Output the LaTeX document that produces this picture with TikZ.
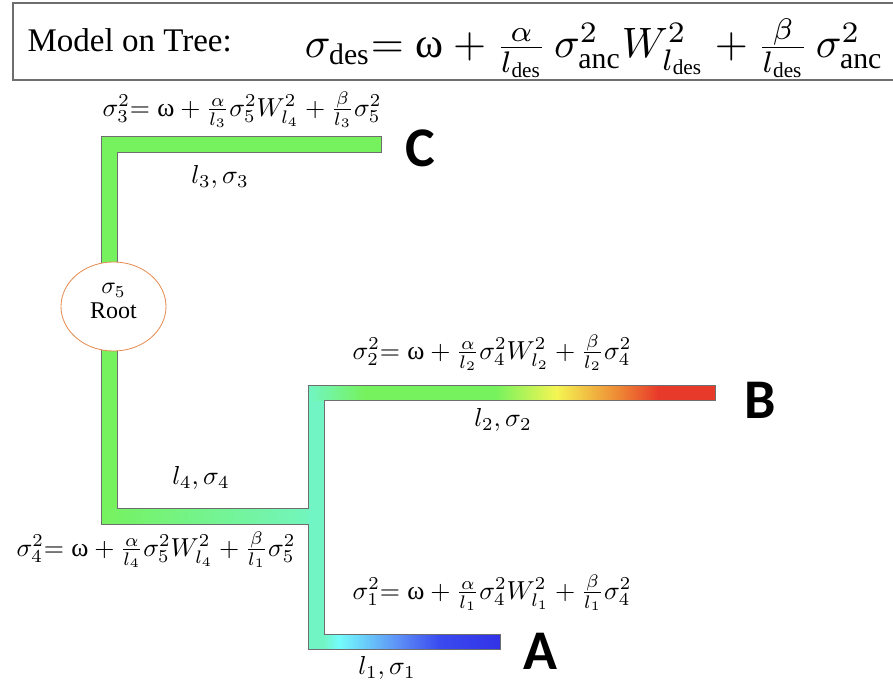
\documentclass[tikz,border=0pt]{standalone}
\usepackage{amsmath}
\usepackage{graphicx}
\usepackage{fontspec}
\setmainfont{Liberation Serif}
\newfontfamily\letrafont{Carlito}
\usepackage{tikz}
\usetikzlibrary{shapes.geometric}
\definecolor{verde}{HTML}{76F25E}
\definecolor{turquesa}{HTML}{72F5C4}
\definecolor{cian}{HTML}{74FCFC}
\definecolor{amarillo}{HTML}{F4F552}
\definecolor{naranja}{HTML}{EE8A35}
\definecolor{rojo}{HTML}{E83A2A}
\definecolor{azul}{HTML}{3A4BEF}
\definecolor{azulmedio}{HTML}{5C8CF6}
\definecolor{azuloscuro}{HTML}{3232E6}
\definecolor{borde}{HTML}{6E6E6E}
\definecolor{naranjaraiz}{HTML}{E5894E}
\newcommand{\omg}{\mbox{ω}}

\pgfdeclarehorizontalshading{ramaB}{100bp}{color(0bp)=(turquesa); color(25bp)=(turquesa);
  color(32bp)=(verde); color(48bp)=(verde); color(55.5bp)=(amarillo);
  color(63bp)=(naranja); color(68bp)=(rojo); color(75bp)=(rojo); color(100bp)=(rojo)}
\pgfdeclarehorizontalshading{ramaA}{100bp}{color(0bp)=(turquesa); color(25bp)=(turquesa);
  color(29bp)=(turquesa); color(33bp)=(cian); color(49bp)=(azulmedio);
  color(59bp)=(azul); color(75bp)=(azuloscuro); color(100bp)=(azuloscuro)}

\begin{document}
\begin{tikzpicture}[x=1pt, y=-1pt,
  formula/.style={scale=2.6, inner sep=0pt},
  etiq/.style={scale=2.6, inner sep=0pt},
  letra/.style={font=\fontsize{56}{60}\selectfont\letrafont\bfseries, inner sep=0pt},
  raiz/.style={ellipse, draw=naranjaraiz, line width=0.8pt, fill=white,
    minimum width=105pt, minimum height=89pt,
    font=\fontsize{24}{28}\selectfont, inner sep=0pt},
  contorno/.style={draw=borde, line width=0.8pt}
]
  \useasboundingbox (0,0) rectangle (893,684);

  % cabecera
  \draw[borde, line width=1.5pt] (13,3) rectangle (905,80);
  \node[anchor=base west, scale=3.3, inner sep=0pt] (modelo) at (27,52) {Model on Tree:};
  \node[anchor=base west, scale=4.25, inner sep=0pt] (modelo-eq) at (304,58)
    {$\sigma_{\mathrm{des}}\mathord{=}\;\omg+\frac{\alpha}{l_{\mathrm{des}}}\,\sigma_{\mathrm{anc}}^2W_{l_{\mathrm{des}}}^2+\frac{\beta}{l_{\mathrm{des}}}\,\sigma_{\mathrm{anc}}^2$};

  % ramas del arbol
  \fill[verde] (101,136) rectangle (117,508);
  \fill[verde] (117,136) rectangle (381,152);
  \shade[left color=verde, right color=turquesa] (101,508) rectangle (324,524);
  \fill[turquesa] (308,385) rectangle (324,649);
  \shade[shading=ramaB] (308,385) rectangle (715,400);
  \shade[shading=ramaA] (308,634) rectangle (500,649);
  \draw[contorno] (381,136) -- (101,136) -- (101,524) -- (308,524) -- (308,649)
    -- (500,649) -- (500,634) -- (324,634) -- (324,400) -- (715,400) -- (715,385)
    -- (308,385) -- (308,508) -- (117,508) -- (117,152) -- (381,152) -- cycle;

  \node[raiz] (root) at (113.5,306.5)
    {\raisebox{6pt}[\height][\depth]{\begin{tabular}{@{}c@{}}\scalebox{2.4}{\normalsize$\sigma_5$}\\[-3pt]Root\end{tabular}}};

  % hoja C
  \node[formula] (fC) at (242,110)
    {$\sigma_3^2\mathord{=}\;\omg+\frac{\alpha}{l_3}\sigma_5^2W_{l_4}^2+\frac{\beta}{l_3}\sigma_5^2$};
  \node[etiq] (lC) at (220,177) {$l_3,\sigma_3$};
  \node[letra] (C) at (420,148) {C};

  % hoja B
  \node[formula] (fB) at (492,353)
    {$\sigma_2^2\mathord{=}\;\omg+\frac{\alpha}{l_2}\sigma_4^2W_{l_2}^2+\frac{\beta}{l_2}\sigma_4^2$};
  \node[etiq] (lB) at (503,420) {$l_2,\sigma_2$};
  \node[letra] (B) at (760,400) {B};

  % nodo interno
  \node[etiq] (lD) at (201,478) {$l_4,\sigma_4$};
  \node[formula] (fD) at (156,550)
    {$\sigma_4^2\mathord{=}\;\omg+\frac{\alpha}{l_4}\sigma_5^2W_{l_4}^2+\frac{\beta}{l_1}\sigma_5^2$};

  % hoja A
  \node[formula] (fA) at (492,593)
    {$\sigma_1^2\mathord{=}\;\omg+\frac{\alpha}{l_1}\sigma_4^2W_{l_1}^2+\frac{\beta}{l_1}\sigma_4^2$};
  \node[etiq] (lA) at (387,668) {$l_1,\sigma_1$};
  \node[letra] (A) at (540,651) {A};
\end{tikzpicture}
\end{document}
